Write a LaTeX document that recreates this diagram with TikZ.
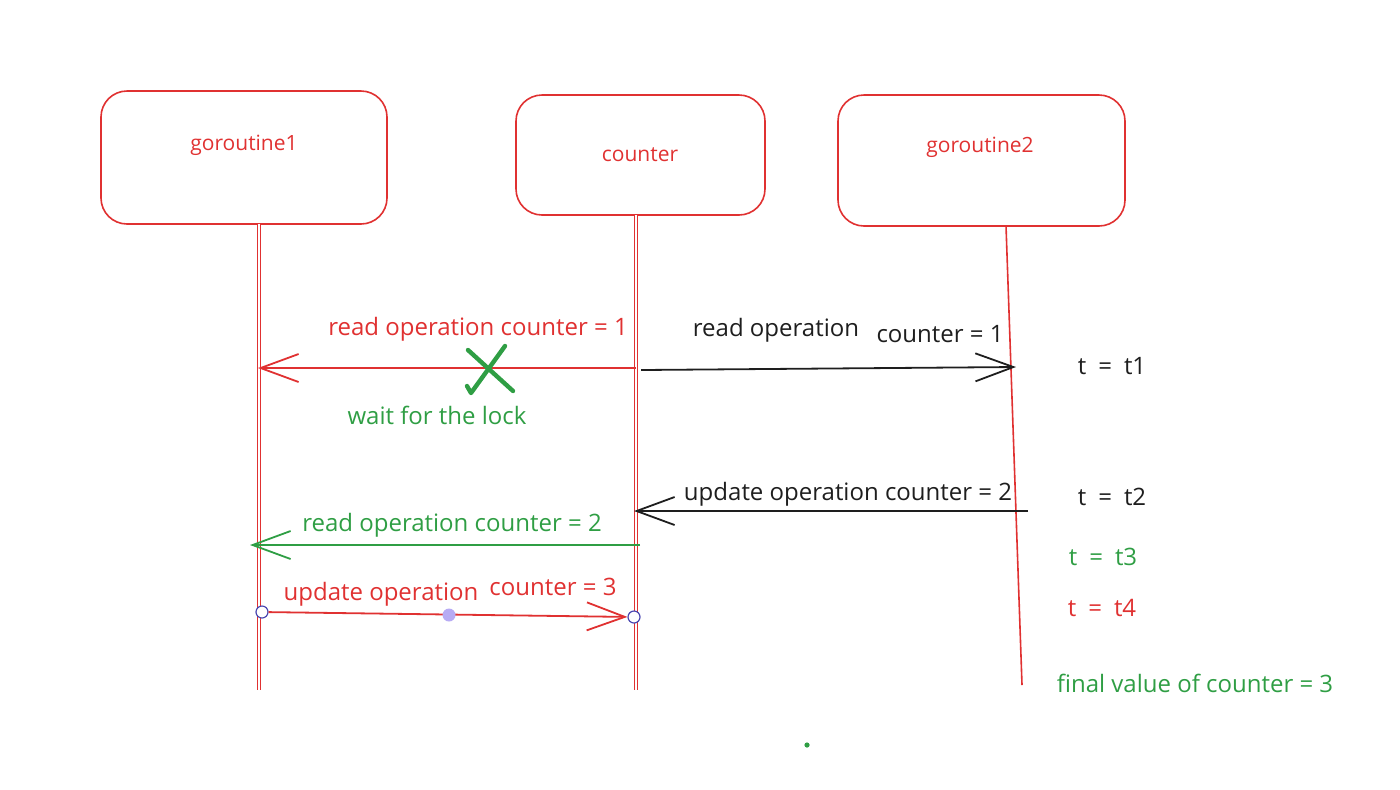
\documentclass[tikz,border=0pt]{standalone}
\usepackage{fontspec}
\setmainfont{Open Sans}
\usetikzlibrary{arrows.meta,positioning,calc}
\definecolor{sketchred}{HTML}{E03131}
\definecolor{sketchgreen}{HTML}{2F9E44}
\definecolor{sketchblack}{HTML}{1E1E1E}
\definecolor{handleblue}{HTML}{4A47B1}
\definecolor{handlepurple}{HTML}{B7ABF4}

\begin{document}
\begin{tikzpicture}[
    x=0.5pt, y=-0.5pt,
    >={Straight Barb[length=19pt,width=14pt]},
    actor/.style={draw=sketchred,line width=0.8pt,rounded corners=13pt,inner sep=0pt},
    actorname/.style={text=sketchred,font=\fontsize{10.5}{12}\selectfont},
    lifeline/.style={draw=sketchred,line width=0.6pt,double=white,double distance=1pt},
    msg/.style={->,line width=0.9pt},
    lbl/.style={font=\fontsize{12}{14}\selectfont,inner sep=1pt},
    handle/.style={circle,draw=handleblue,fill=white,line width=0.6pt,minimum size=6pt,inner sep=0pt},
  ]
  \useasboundingbox (0,0) rectangle (1400,789);

  % --- the three participants ---
  \node[actor,minimum width=143pt,minimum height=66.5pt] (g1)  at (244,157.5) {};
  \node[actor,minimum width=124.5pt,minimum height=60pt] (cnt) at (640.5,155) {};
  \node[actor,minimum width=143.5pt,minimum height=65.5pt] (g2) at (981.5,160.5) {};
  \node[actorname] (g1name)  at (244,145) {goroutine1};
  \node[actorname] (cntname) at (640,155) {counter};
  \node[actorname] (g2name)  at (980,147) {goroutine2};

  % --- lifelines ---
  \coordinate (g1top)  at (259,224);  \coordinate (g1bot)  at (259,690);
  \coordinate (cnttop) at (636,215);  \coordinate (cntbot) at (636,690);
  \coordinate (g2top)  at (1006,226); \coordinate (g2bot)  at (1022,685);
  \draw[lifeline] (g1top) -- (g1bot);
  \draw[lifeline] (cnttop) -- (cntbot);
  \draw[sketchred,line width=0.8pt] (g2top) -- (g2bot);

  % --- t1: both goroutines read ---
  \coordinate (c1)  at (636,368);  \coordinate (g1a) at (258,368);
  \coordinate (c1b) at (641,370);  \coordinate (g2a) at (1016,367);
  \draw[msg,sketchred] (c1) -- (g1a);
  \draw[msg,sketchblack] (c1b) -- (g2a);
  \node[lbl,text=sketchred]   (r1)  at (478,329) {read operation counter = 1};
  \node[lbl,text=sketchblack] (r2a) at (776,330) {read operation};
  \node[lbl,text=sketchblack] (r2b) at (940,334) {counter = 1};
  \node[lbl,text=sketchgreen] (wait) at (437,415) {wait for the lock};
  \node[lbl,text=sketchblack] (t1) at (1112,366) {t\enspace=\enspace t1};

  % blocked read: green tick-cross
  \draw[sketchgreen,line width=2.2pt,line cap=round,line join=round]
    (467,386) -- (471,393) -- (505,346);
  \draw[sketchgreen,line width=2.2pt,line cap=round] (468,350) -- (513,391);

  % --- t2: goroutine2 writes ---
  \coordinate (g2b) at (1028,511); \coordinate (c2) at (634,511);
  \draw[msg,sketchblack] (g2b) -- (c2);
  \node[lbl,text=sketchblack] (u2) at (848,494) {update operation counter = 2};
  \node[lbl,text=sketchblack] (t2) at (1112,497) {t\enspace=\enspace t2};

  % --- t3: goroutine1 reads again ---
  \coordinate (c3) at (640,545); \coordinate (g1b) at (250,545);
  \draw[msg,sketchgreen] (c3) -- (g1b);
  \node[lbl,text=sketchgreen] (r3) at (452,525) {read operation counter = 2};
  \node[lbl,text=sketchgreen] (t3) at (1103,557) {t\enspace=\enspace t3};

  % --- t4: goroutine1 writes ---
  \node[handle] (h1) at (262,612) {};
  \node[handle] (h2) at (634,617) {};
  \draw[msg,sketchred] (h1) -- (h2);
  \node[circle,fill=handlepurple,minimum size=6.5pt,inner sep=0pt] (hmid) at (449,615) {};
  \node[lbl,text=sketchred] (u4a) at (381,594) {update operation};
  \node[lbl,text=sketchred] (u4b) at (553,587) {counter = 3};
  \node[lbl,text=sketchred] (t4) at (1102,608) {t\enspace=\enspace t4};

  \node[lbl,text=sketchgreen] (final) at (1195,683) {final value of counter = 3};
  \node[circle,fill=sketchgreen,minimum size=2.6pt,inner sep=0pt] (dot) at (807,745) {};

\end{tikzpicture}
\end{document}
